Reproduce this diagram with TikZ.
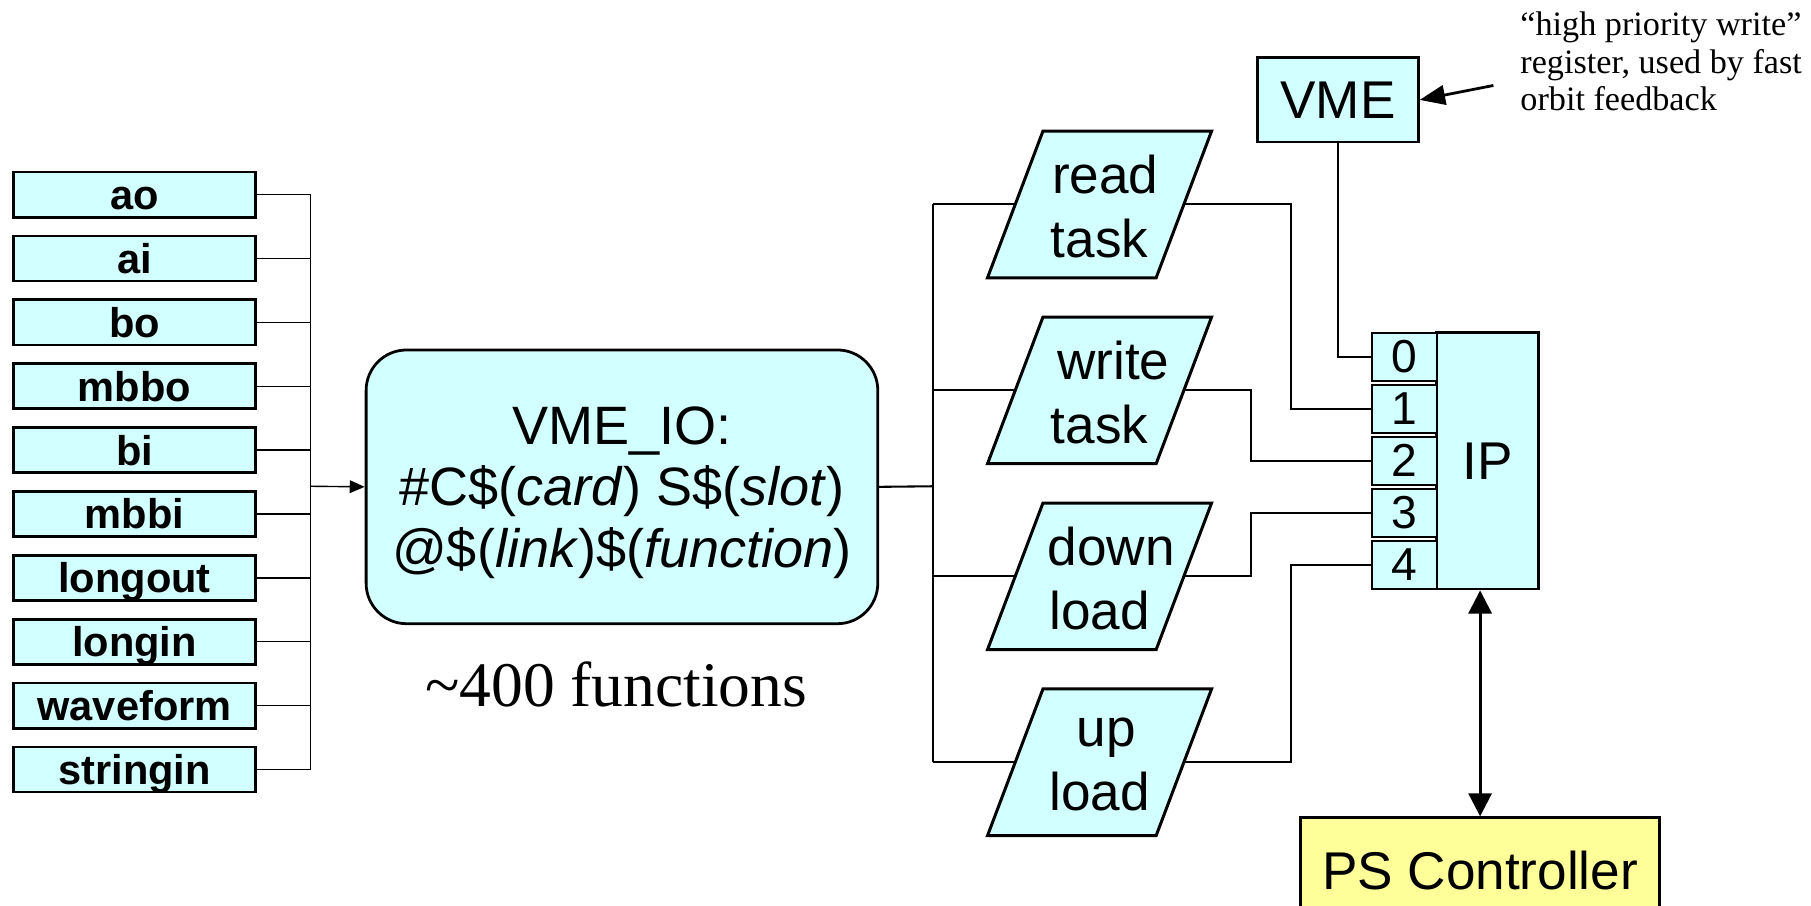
\documentclass[tikz,border=0pt]{standalone}
\usepackage{fontspec}
\setmainfont{Liberation Serif}
\setsansfont{Liberation Sans}
\usetikzlibrary{arrows.meta,calc}
\definecolor{cellfill}{RGB}{210,255,255}
\definecolor{ctrlfill}{RGB}{255,255,153}

% slanted task box: #1 name, #2 vertical centre, #3 label
\newcommand\taskshape[3]{%
  \path[slantbox] (855,#2+63.5) -- (1001,#2+63.5) -- (1049,#2-63.5) -- (903,#2-63.5) -- cycle;
  \node[tasktext] (#1) at (952,#2+2) {#3};
  \coordinate (#1-in) at (879,#2);
  \coordinate (#1-out) at (1025,#2);}

\begin{document}
\begin{tikzpicture}[x=0.5pt,y=-0.5pt,
  rec/.style={draw, line width=1.2pt, fill=cellfill, inner sep=0pt},
  recbox/.style={rec, minimum width=104.5pt, minimum height=19.5pt,
    text height=15.2pt, text depth=2.2pt,
    font=\sffamily\bfseries\fontsize{18}{20}\selectfont},
  portbox/.style={rec, line width=1.1pt, minimum width=28pt, minimum height=20.8pt,
    font=\sffamily\fontsize{20}{22}\selectfont},
  bigtext/.style={font=\sffamily\fontsize{23}{27.5}\selectfont},
  slantbox/.style={draw, line width=1.3pt, fill=cellfill, line join=miter},
  tasktext/.style={bigtext, align=center, inner sep=0pt},
  wire/.style={line width=0.9pt},
  thinwire/.style={line width=0.6pt}]
\useasboundingbox (0,0) rectangle (1568,784);
\clip (0,0) rectangle (1568,784);

% record types
\foreach \name [count=\i from 0] in {ao,ai,bo,mbbo,bi,mbbi,longout,longin,waveform,stringin}
  \node[recbox] (\name) at (116.5,168.5+55.3*\i) {\name};

\coordinate (lbus) at (269,421);
\foreach \name in {ao,ai,bo,mbbo,bi,mbbi,longout,longin,waveform,stringin}
  \draw[thinwire] (\name.east) -- (\name.east -| lbus);
\draw[thinwire] (ao.east -| lbus) -- (stringin.east -| lbus);

% driver support
\node[rec, rounded corners=17.5pt, minimum width=221.5pt, minimum height=118.5pt] (vmeio) at (538.5,421.5) {};
\node[align=center, inner sep=0pt, font=\sffamily\fontsize{23.4}{26.5}\selectfont] (vmeiotext)
  at ($(vmeio.center)+(0,5)$)
  {VME\_IO:\\\#C\$(\textit{card}) S\$(\textit{slot})\\@\$(\textit{link})\$(\textit{function})};
\draw[thinwire, -{Triangle[length=6.5pt,width=5.5pt]}] (lbus) -- (vmeio.west);

\node[font=\fontsize{27.5}{30}\selectfont, anchor=base, inner sep=0pt] (nfunc) at (533.5,612)
  {\textasciitilde400 functions};

% tasks
\taskshape{read}{177}{\hspace*{5pt}read\\task}
\taskshape{write}{338}{\hspace*{12pt}write\\task}
\taskshape{down}{499}{\hspace*{10pt}down\\load}
\taskshape{up}{660}{\hspace*{6pt}up\\load}

\coordinate (rbus) at (808,421);
\draw[wire] (vmeio.east) -- (rbus);
\draw[wire] (read-in -| rbus) -- (up-in -| rbus);
\foreach \t in {read,write,down,up}
  \draw[wire] (\t-in -| rbus) -- (\t-in);

% IP module with its ports
\node[rec, minimum width=44pt, minimum height=111pt, bigtext] (ip) at (1288,399) {IP};
\foreach \k in {0,...,4}
  \node[portbox] (p\k) at (1216,309+45*\k) {\k};

\node[rec, minimum width=69.5pt, minimum height=36.5pt, bigtext] (vme) at (1158.5,86.5) {VME};

\draw[wire] (vme.south) |- (p0.west);
\draw[wire] (read-out) -- ++(93,0) |- (p1.west);
\draw[wire] (write-out) -- ++(58,0) |- (p2.west);
\draw[wire] (down-out) -- ++(58,0) |- (p3.west);
\draw[wire] (up-out) -- ++(93,0) |- (p4.west);

% power supply controller
\node[rec, fill=ctrlfill, minimum width=155.5pt, minimum height=46pt, bigtext] (ps) at (1281.5,754) {PS Controller};
\draw[line width=1.2pt, {Triangle[length=10pt,width=10pt]}-{Triangle[length=10pt,width=10pt]}]
  (ps.north |- ip.south) -- (ps.north);

% note on port 0
\node[anchor=north west, align=left, inner sep=0pt,
  font=\fontsize{14.8}{16.25}\selectfont] (note) at (1316,10)
  {“high priority write”\\register, used by fast\\orbit feedback};
\coordinate (notetail) at (1293,74);
\draw[line width=1.2pt, -{Triangle[length=11pt,width=8.5pt]}] (notetail) -- (vme.east);
\end{tikzpicture}
\end{document}
